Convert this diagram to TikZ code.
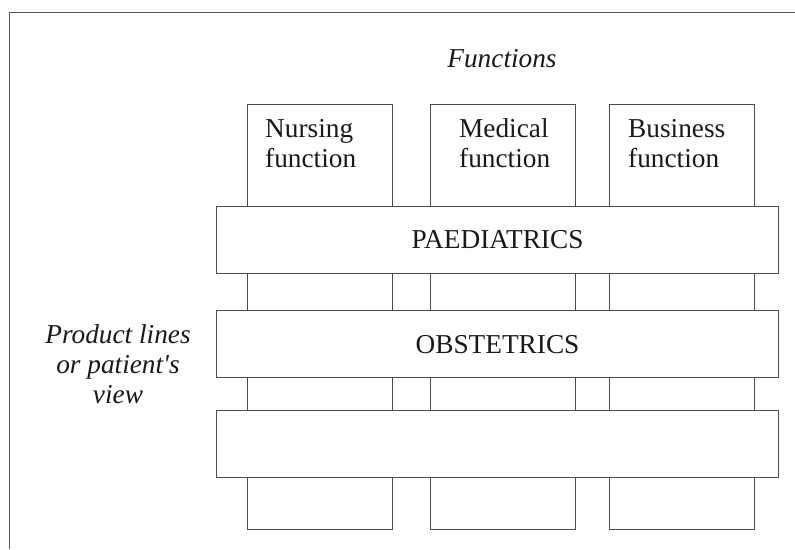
\documentclass[tikz,border=0pt]{standalone}
\usepackage{fontspec}
\setmainfont{Liberation Serif}
\begin{document}
\begin{tikzpicture}[x=1pt,y=-1pt,
  frameline/.style={draw=black!65,line width=0.8pt},
  colbox/.style={draw=black!70,line width=0.75pt,inner sep=0pt,outer sep=0pt,
    minimum width=145pt,minimum height=425pt},
  rowband/.style={draw=black!70,fill=white,line width=0.75pt,inner sep=0pt,outer sep=0pt,
    minimum width=562pt,minimum height=67pt},
  lbl/.style={inner sep=0pt,font=\fontsize{27.3}{30}\selectfont,text=black!90},
  ilbl/.style={lbl,font=\fontsize{27.3}{30}\selectfont\itshape}]
\useasboundingbox (0,0) rectangle (795,549);

% outer frame (top and left edges)
\coordinate (frTR) at (795,12);
\coordinate (frTL) at (9,12);
\coordinate (frBL) at (9,549);
\draw[frameline] (frTR) -- (frTL) -- (frBL);

% heading of the columns
\node[ilbl,anchor=base] (fhead) at (502,67) {Functions};

% function columns
\node[colbox] (nursing)  at (319.5,316.5) {};
\node[colbox] (medical)  at (502.5,316.5) {};
\node[colbox] (business) at (681.5,316.5) {};

% column labels (anchored at the baseline of their second line)
\node[lbl,anchor=base west,align=left] (nursingtxt)  at (265,167) {Nursing\\function};
\node[lbl,anchor=base west,align=left] (medicaltxt)  at (459,167) {Medical\\function};
\node[lbl,anchor=base west,align=left] (businesstxt) at (628,167) {Business\\function};

% product-line bands across the columns
\node[rowband] (paed)  at (497,239.5) {};
\node[rowband] (obst)  at (497,343.5) {};
\node[rowband] (third) at (497,444) {};

\node[lbl,anchor=base] (paedtxt) at (497.5,248) {PAEDIATRICS};
\node[lbl,anchor=base] (obsttxt) at (497.5,353) {OBSTETRICS};

% side heading of the rows
\node[ilbl,anchor=base,align=center] (rowhead) at (118,403) {Product lines\\or patient\textquotesingle s\\view};
\end{tikzpicture}
\end{document}
